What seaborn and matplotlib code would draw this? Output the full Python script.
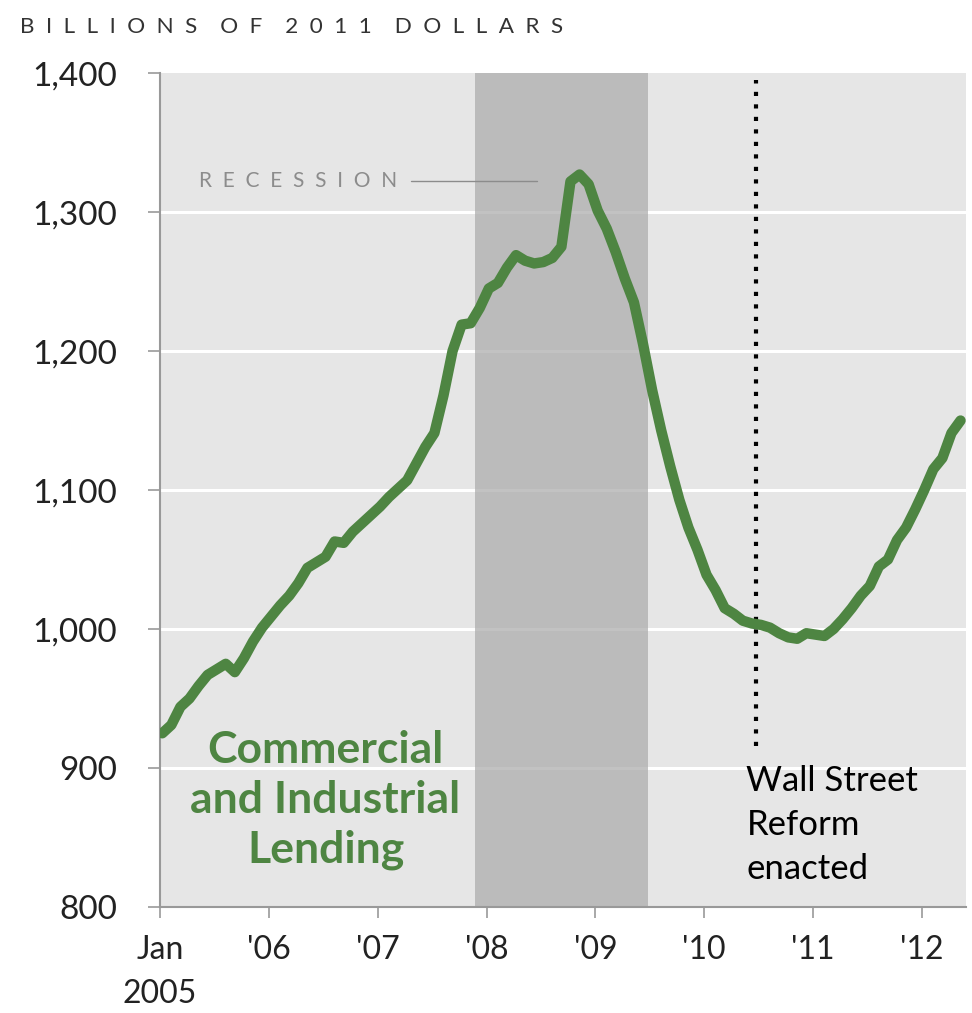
import numpy as np
import pandas as pd
import seaborn as sns
import matplotlib.pyplot as plt

# Commercial and industrial lending, monthly, Jan 2005 - May 2012 (billions of 2011 dollars)
lending = [
    925, 931, 944, 950, 959, 967, 971, 975, 969, 979,
    991, 1001, 1009, 1017, 1024, 1033, 1044, 1048, 1052, 1063,
    1062, 1070, 1076, 1082, 1088, 1095, 1101, 1107, 1119, 1131,
    1141, 1168, 1200, 1219, 1220, 1231, 1245, 1249, 1260, 1269,
    1265, 1263, 1264, 1267, 1275, 1322, 1327, 1320, 1301, 1288,
    1271, 1252, 1235, 1205, 1172, 1143, 1117, 1093, 1073, 1057,
    1039, 1028, 1015, 1011, 1006, 1004, 1003, 1001, 997, 994,
    993, 997, 996, 995, 1000, 1007, 1015, 1024, 1031, 1045,
    1050, 1064, 1073, 1086, 1100, 1115, 1123, 1141, 1150,
]
months = list(range(len(lending)))  # months since Jan 2005
year_labels = ["Jan\n2005", "'06", "'07", "'08", "'09", "'10", "'11", "'12"]
y_ticks = [800, 900, 1000, 1100, 1200, 1300, 1400]
recession = (34.5, 53.5)      # Dec 2007 - Jun 2009
reform_month = 65.5           # July 2010

df = pd.DataFrame({"month": months, "lending": lending})

GREEN = "#4e8542"
sns.set_style("white", {"axes.facecolor": "#e6e6e6"})
plt.rcParams["font.family"] = ["Lato", "DejaVu Sans"]

fig = plt.figure(figsize=(9.72, 10.13), dpi=100)
ax = fig.add_axes([0.1646, 0.1046, 0.9938 - 0.1646, 0.9279 - 0.1046])

# white gridlines
for v in y_ticks[1:-1]:
    ax.axhline(v, color="white", lw=2.2, zorder=1)

# recession shading
ax.axvspan(*recession, color="#a9a9a9", alpha=0.7, lw=0, zorder=2)

# Wall Street Reform marker
ax.plot([reform_month, reform_month], [916, 1395], color="black", lw=3,
        dashes=(1, 2), dash_capstyle="butt", zorder=3)

sns.lineplot(data=df, x="month", y="lending", color=GREEN, lw=7.5, ax=ax,
             zorder=4, solid_capstyle="round", solid_joinstyle="round")

ax.set_xlim(-0.25, 88.6)
ax.set_ylim(800, 1400)
ax.set_xlabel("")
ax.set_ylabel("")

ax.set_xticks([12 * k - 0.25 for k in range(len(year_labels))])
ax.set_xticklabels(year_labels, fontsize=23, color="#222222", linespacing=1.6)
ax.set_yticks(y_ticks)
ax.set_yticklabels([f"{v:,}" for v in y_ticks], fontsize=24, color="#222222")
ax.tick_params(axis="x", direction="out", length=8, width=1.2, color="#999999", pad=12)
ax.tick_params(axis="y", direction="out", length=9, width=1.2, color="#999999", pad=22)
ax.tick_params(bottom=True, left=True)

for side in ["top", "right"]:
    ax.spines[side].set_visible(False)
for side in ["left", "bottom"]:
    ax.spines[side].set_color("#999999")
    ax.spines[side].set_linewidth(1.5)

# annotations
title = "    ".join("  ".join(word) for word in ["BILLIONS", "OF", "2011", "DOLLARS"])
fig.text(20 / 972, 1 - 27 / 1013, title, fontsize=16.2, color="#333333",
         va="center", ha="left")

ax.text(25.9, 1322, "  ".join("RECESSION"), fontsize=15, color="#8c8c8c",
        ha="right", va="center")
ax.plot([27.4, 41.3], [1322, 1322], color="#8c8c8c", lw=1, zorder=3)

ax.text(18.0, 877, "Commercial\nand Industrial\nLending", fontsize=32,
        fontweight="bold", color=GREEN, ha="center", va="center", linespacing=1.3)

ax.text(64.4, 859, "Wall Street\nReform\nenacted", fontsize=25, color="black",
        ha="left", va="center", linespacing=1.45)

fig.savefig("out.png", dpi=100)
